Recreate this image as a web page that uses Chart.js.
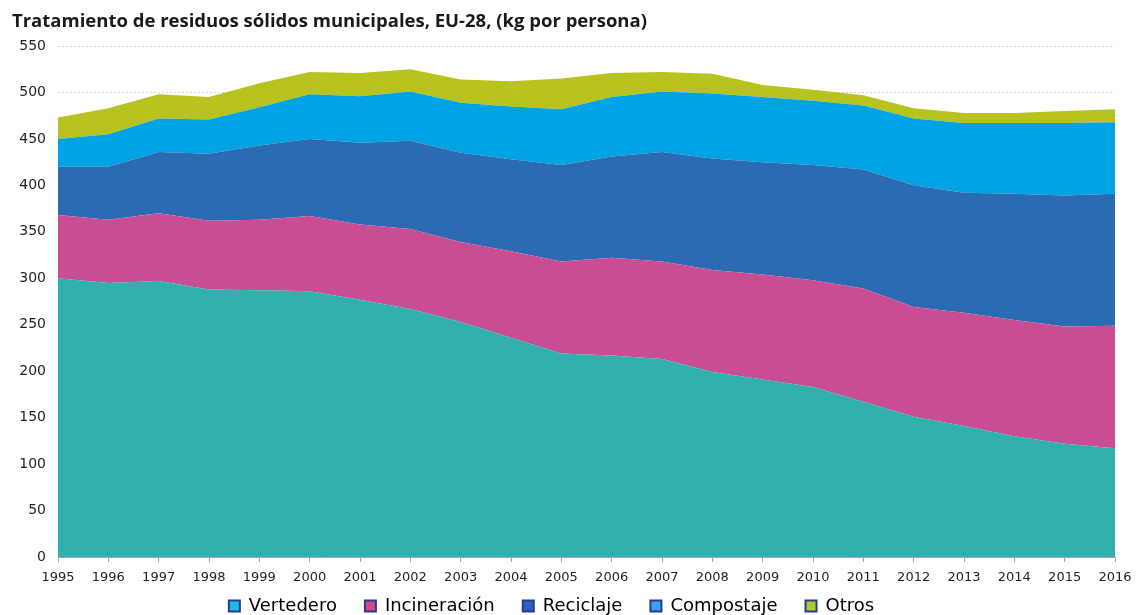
<!DOCTYPE html>
<html>
<head>
<meta charset="utf-8">
<script src="https://cdn.jsdelivr.net/npm/chart.js@4/dist/chart.umd.min.js"></script>
<style>
  body { margin: 0; background: #fff; }
  #wrap { width: 1140px; height: 615px; }
</style>
</head>
<body>
<div id="wrap"><canvas id="chartCanvas" width="1140" height="615"></canvas></div>
<script>
// años
const years = ['1995', '1996', '1997', '1998', '1999', '2000', '2001', '2002', '2003', '2004', '2005',
    '2006', '2007', '2008', '2009', '2010', '2011', '2012', '2013', '2014', '2015', '2016'];

// kg por persona (apilados)
const vertedero = [300, 295, 297, 288, 287, 286, 277, 267, 253, 236, 219, 217, 213, 199, 191, 183, 167, 151, 141, 130, 122, 117];
const incineracion = [68, 68, 73, 74, 76, 81, 81, 86, 86, 93, 99, 105, 105, 110, 113, 115, 122, 118, 122, 125, 126, 132];
const reciclaje = [52, 57, 66, 72, 80, 83, 88, 95, 96, 99, 104, 109, 118, 120, 121, 124, 128, 131, 129, 136, 141, 142];
const compostaje = [30, 35, 36, 37, 41, 48, 50, 53, 54, 57, 60, 64, 65, 70, 70, 69, 69, 72, 75, 76, 78, 77];
const otros = [23, 28, 26, 24, 26, 24, 25, 24, 25, 27, 33, 26, 21, 21, 13, 12, 11, 11, 11, 11, 13, 14];

const yTicks = [0, 50, 100, 150, 200, 250, 300, 350, 400, 450, 500, 550];

const names = ['Vertedero', 'Incineración', 'Reciclaje', 'Compostaje', 'Otros'];
const areaColors = ['#32afaf', '#c94d93', '#2a6bb3', '#00a4e4', '#b9c31f'];
const legendColors = ['#1fb8e6', '#d9438c', '#2f5fbd', '#3a9ff0', '#b2c82c'];

function serie(i, values) {
    return {
        label: names[i],
        data: values,
        backgroundColor: areaColors[i],
        borderColor: areaColors[i],
        borderWidth: 0,
        pointRadius: 0,
        tension: 0,
        fill: i === 0 ? 'origin' : '-1'
    };
}

// sube la leyenda para que quede pegada a los años
// (la caja se agranda hacia abajo para que no se recorte el texto)
const legendShift = {
    id: 'legendShift',
    afterLayout: function (c) {
        c.legend.top -= 20;
        c.legend.left -= 12;
        c.legend.right -= 12;
        c.legend.bottom = c.legend.top + 70;
        c.legend.height = 70;
    }
};

const ctx = document.getElementById('chartCanvas');

const chart = new Chart(ctx, {
    type: 'line',
    data: {
        labels: years,
        datasets: [
            serie(0, vertedero),
            serie(1, incineracion),
            serie(2, reciclaje),
            serie(3, compostaje),
            serie(4, otros)
        ]
    },
    plugins: [legendShift],
    options: {
        responsive: false,
        animation: false,
        layout: { padding: { left: 12, right: 25, top: 0, bottom: 0 } },
        plugins: {
            tooltip: { enabled: false },
            title: {
                display: true,
                text: 'Tratamiento de residuos sólidos municipales, EU-28, (kg por persona)',
                align: 'start',
                color: '#1a1a1a',
                font: { family: 'Open Sans', size: 18.5, weight: 'bold', lineHeight: 1.2 },
                padding: { top: 11, bottom: 12.8 }
            },
            legend: {
                position: 'bottom',
                align: 'center',
                maxHeight: 26,
                labels: {
                    color: '#262626',
                    font: { family: 'DejaVu Sans', size: 18 },
                    boxWidth: 11,
                    boxHeight: 11,
                    padding: 28,
                    generateLabels: function (c) {
                        return c.data.datasets.map(function (ds, i) {
                            return {
                                text: ds.label,
                                fillStyle: legendColors[i],
                                strokeStyle: '#283c8c',
                                lineWidth: 2,
                                hidden: false,
                                datasetIndex: i
                            };
                        });
                    }
                }
            }
        },
        scales: {
            x: {
                offset: false,
                grid: {
                    display: true,
                    drawOnChartArea: false,
                    drawTicks: true,
                    tickLength: 5,
                    color: '#a6a6a6'
                },
                border: { display: true, color: '#a6a6a6' },
                ticks: {
                    color: '#1f1f1f',
                    font: { family: 'DejaVu Sans', size: 13 },
                    maxRotation: 0,
                    autoSkip: false,
                    padding: 8
                },
                afterFit: function (scale) { scale.height = 32; }
            },
            y: {
                stacked: true,
                min: 0,
                max: 550,
                afterBuildTicks: function (scale) {
                    scale.ticks = yTicks.map(function (v) { return { value: v }; });
                },
                grid: {
                    color: '#d4d4d4',
                    drawTicks: false
                },
                border: { display: false, dash: [2, 2] },
                ticks: {
                    color: '#1f1f1f',
                    font: { family: 'DejaVu Sans', size: 14 },
                    padding: 12
                },
                afterFit: function (scale) { scale.width = 46; }
            }
        }
    }
});
</script>
</body>
</html>
